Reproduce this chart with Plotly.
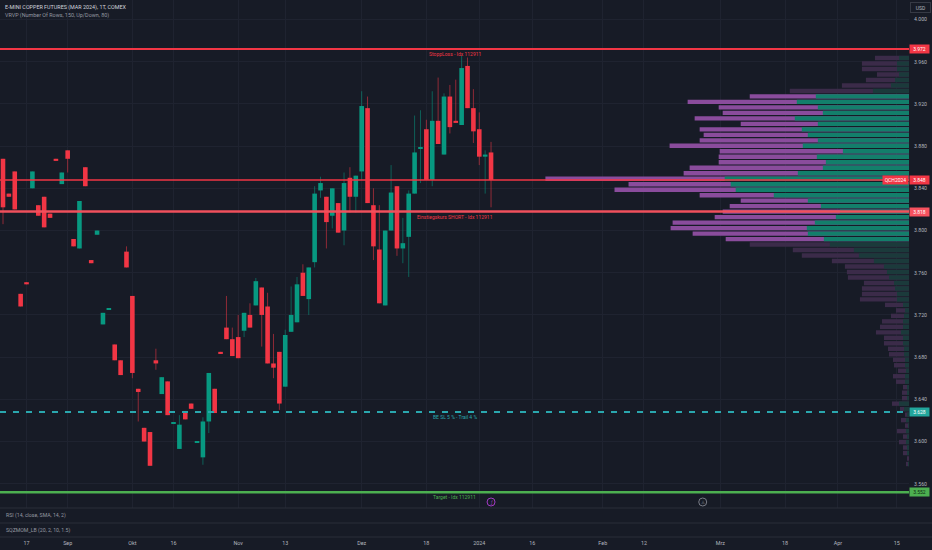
import numpy as np
import plotly.graph_objects as go

# ---------------- data (daily bars, bar index order) ----------------
opens = [3.868, 3.835, 3.856, 3.740, 3.751, 3.840, 3.824, 3.832, 3.816, 3.868,
         3.844, 3.876, 3.792, 3.783, 3.860, 3.772, 3.796, 3.711, 3.7255, 3.692,
         3.677, 3.780, 3.738, 3.650, 3.613, 3.609, 3.677, 3.645, 3.657, 3.6175,
         3.593, 3.629, 3.636, 3.5995, 3.585, 3.619, 3.650, 3.685, 3.708, 3.697,
         3.699, 3.705, 3.720, 3.729, 3.746, 3.728, 3.674, 3.685, 3.652, 3.704,
         3.713, 3.760, 3.735, 3.770, 3.838, 3.832, 3.814, 3.826, 3.800, 3.850,
         3.832, 3.856, 3.916, 3.824, 3.782, 3.729, 3.800, 3.842, 3.783, 3.794,
         3.835, 3.8775, 3.896, 3.848, 3.904, 3.872, 3.927, 3.904, 3.900, 3.956,
         3.916, 3.896, 3.870, 3.874]
highs = [3.868, 3.835, 3.856, 3.740, 3.751, 3.856, 3.824, 3.832, 3.816, 3.868,
         3.855, 3.876, 3.792, 3.828, 3.860, 3.772, 3.800, 3.722, 3.726, 3.692,
         3.677, 3.785, 3.738, 3.650, 3.613, 3.609, 3.688, 3.661, 3.657, 3.618,
         3.625, 3.629, 3.636, 3.600, 3.623, 3.665, 3.650, 3.685, 3.738, 3.708,
         3.720, 3.722, 3.731, 3.755, 3.746, 3.741, 3.702, 3.685, 3.706, 3.747,
         3.756, 3.768, 3.765, 3.842, 3.851, 3.832, 3.840, 3.826, 3.855, 3.860,
         3.852, 3.932, 3.927, 3.840, 3.824, 3.800, 3.862, 3.842, 3.812, 3.838,
         3.909, 3.914, 3.905, 3.932, 3.945, 3.930, 3.938, 3.943, 3.966, 3.964,
         3.934, 3.912, 3.876, 3.884]
lows = [3.806, 3.832, 3.820, 3.728, 3.749, 3.840, 3.814, 3.803, 3.812, 3.866,
        3.844, 3.855, 3.785, 3.783, 3.842, 3.769, 3.796, 3.711, 3.7255, 3.677,
        3.663, 3.765, 3.660, 3.619, 3.600, 3.577, 3.668, 3.645, 3.625, 3.6175,
        3.593, 3.621, 3.631, 3.5995, 3.578, 3.608, 3.627, 3.683, 3.697, 3.681,
        3.679, 3.699, 3.708, 3.729, 3.690, 3.674, 3.660, 3.630, 3.652, 3.704,
        3.713, 3.738, 3.720, 3.765, 3.831, 3.783, 3.802, 3.798, 3.786, 3.817,
        3.817, 3.848, 3.826, 3.772, 3.731, 3.729, 3.800, 3.776, 3.769, 3.756,
        3.835, 3.845, 3.848, 3.842, 3.882, 3.872, 3.892, 3.902, 3.900, 3.916,
        3.883, 3.862, 3.835, 3.822]
closes = [3.822, 3.832, 3.820, 3.728, 3.749, 3.856, 3.814, 3.803, 3.812, 3.866,
          3.855, 3.868, 3.785, 3.828, 3.842, 3.769, 3.800, 3.722, 3.726, 3.677,
          3.663, 3.765, 3.665, 3.647, 3.600, 3.577, 3.674, 3.661, 3.625, 3.618,
          3.616, 3.621, 3.631, 3.600, 3.619, 3.665, 3.627, 3.683, 3.697, 3.681,
          3.679, 3.722, 3.708, 3.752, 3.720, 3.674, 3.670, 3.636, 3.701, 3.720,
          3.749, 3.738, 3.765, 3.835, 3.845, 3.808, 3.840, 3.798, 3.845, 3.832,
          3.852, 3.918, 3.826, 3.785, 3.731, 3.800, 3.836, 3.783, 3.788, 3.835,
          3.874, 3.878, 3.848, 3.904, 3.882, 3.927, 3.898, 3.902, 3.954, 3.916,
          3.894, 3.870, 3.872, 3.848]

# time axis (bar index of each label)
tick_idx = [4, 11, 22, 29, 40, 48, 61, 72, 81, 90, 102, 109, 122, 133, 142, 152]
tick_lbl = ["17", "Sep", "Okt", "16", "Nov", "13", "Dez", "18", "2024", "16",
            "Feb", "12", "Mrz", "18", "Apr", "15"]
price_ticks = [3.56, 3.60, 3.64, 3.68, 3.72, 3.76, 3.80, 3.84, 3.88, 3.92, 3.96, 4.00]

# visible range volume profile (top row first)
vp_top = 3.9635
vp_step = 0.0052
up_vol = [10, 12, 12, 10, 14, 18, 36, 93, 112, 91,
          86, 114, 91, 107, 101, 91, 106, 66, 92, 83,
          86, 111, 184, 178, 173, 135, 101, 88, 69, 73,
          94, 102, 101, 85, 79, 55, 50, 35, 25, 22,
          20, 15, 14, 12, 12, 6, 4, 5, 6, 6,
          8, 6, 6, 5, 5, 4, 4, 3, 4, 4,
          2, 2, 2, 10, 5, 2, 3, 1, 3, 2,
          3, 2, 2, 0, 1]
down_vol = [24, 35, 35, 22, 29, 49, 83, 66, 109, 99,
            100, 100, 77, 102, 104, 118, 133, 123, 98, 107,
            133, 114, 179, 102, 121, 74, 67, 91, 117, 121,
            142, 136, 115, 98, 80, 61, 57, 42, 39, 40,
            41, 30, 33, 35, 37, 18, 9, 13, 21, 23,
            25, 19, 19, 16, 15, 12, 11, 8, 12, 9,
            4, 5, 5, 7, 4, 2, 5, 3, 9, 4,
            7, 4, 4, 2, 2]
value_area_rows = (7, 33)

# horizontal levels
stop_loss = 3.972
last_price = 3.848
entry_short = 3.818
be_sl = 3.628
target = 3.552
event_bars = [83, 119]

# ---------------- styling ----------------
BG = "#171B26"
GRID = "#1F2330"
TXT = "#B2B5BE"
UP = "#089981"
DN = "#F23645"
FONT = "Roboto, Liberation Sans, sans-serif"

PLOT_H = 550 - 13  # plot area height in px
main_bottom = (PLOT_H - 508) / PLOT_H

o = np.array(opens); h = np.array(highs); l = np.array(lows); c = np.array(closes)
idx = np.arange(len(o))
is_up = c >= o

fig = go.Figure()

# ---- volume profile ----
up_a = np.array(up_vol); dn_a = np.array(down_vol)
tot = up_a + dn_a
rows = np.round(vp_top - vp_step * np.arange(len(up_a)), 4)
k = np.arange(len(up_a))
in_va = (k >= value_area_rows[0]) & (k <= value_area_rows[1])
fig.add_trace(go.Bar(orientation="h", y=rows, x=tot, xaxis="x2", yaxis="y",
                     width=vp_step * 0.8,
                     marker=dict(color=np.where(in_va, "#8A4C9C", "#3B2B49").tolist(), line_width=0),
                     hoverinfo="skip"))
fig.add_trace(go.Bar(orientation="h", y=rows, x=up_a, xaxis="x2", yaxis="y",
                     width=vp_step * 0.8,
                     marker=dict(color=np.where(in_va, "#137F6B", "#1B3A3B").tolist(), line_width=0),
                     hoverinfo="skip"))

# ---- wicks ----
for mask, col in ((is_up, "rgba(8,153,129,0.55)"), (~is_up, "rgba(242,54,69,0.55)")):
    xs, ys = [], []
    for i in idx[mask]:
        xs += [i, i, None]
        ys += [l[i], h[i], None]
    fig.add_trace(go.Scatter(x=xs, y=ys, mode="lines", line=dict(color=col, width=1),
                             hoverinfo="skip"))

# ---- bodies ----
body_lo = np.minimum(o, c)
body_h = np.maximum(np.abs(c - o), 0.0009)
fig.add_trace(go.Bar(x=idx, y=body_h, base=body_lo, width=0.78,
                     marker=dict(color=[UP if u else DN for u in is_up], line_width=0),
                     hoverinfo="skip"))

# ---- level lines ----
shapes = []
annos = []
def hline(y, color, width, dash="solid"):
    shapes.append(dict(type="line", xref="paper", x0=0, x1=1, yref="y", y0=y, y1=y,
                       line=dict(color=color, width=width, dash=dash)))

hline(stop_loss, "#F23645", 2)
hline(last_price, "#F23645", 1.5)
hline(entry_short, "#F0505C", 2.5)
hline(be_sl, "#2AA7AE", 2, "6px,7px")
hline(target, "#4CAF50", 2.5)

def line_label(y, text, color):
    annos.append(dict(xref="paper", x=0.5, yref="y", y=y, yshift=-5, text=text,
                      showarrow=False, font=dict(size=5, color=color, family=FONT),
                      xanchor="center", yanchor="middle"))

line_label(stop_loss, "StoppLoss - Idx 112911", "#F23645")
line_label(entry_short, "Einstiegskurs SHORT - Idx 112911", "#F23645")
line_label(be_sl, "BE SL 5 % - Trail 4 %", "#2AA7AE")
line_label(target, "Target - Idx 112911", "#4CAF50")

def price_box(y, color, txtcol="#FFFFFF"):
    annos.append(dict(xref="paper", x=1, yref="y", y=y, text=f"{y:.3f}", showarrow=False,
                      font=dict(size=5, color=txtcol, family=FONT), bgcolor=color,
                      xanchor="left", yanchor="middle", width=19, height=8, borderpad=0))

price_box(stop_loss, "#F23645")
price_box(last_price, "#F23645")
price_box(entry_short, "#F7525F")
price_box(be_sl, "#22A69C")
price_box(target, "#4CAF50", "#0E2A10")
annos.append(dict(xref="paper", x=1, yref="y", y=last_price, text="QCH2024", showarrow=False,
                  font=dict(size=5, color="#FFFFFF", family=FONT), bgcolor="#F23645",
                  xanchor="right", yanchor="middle", width=25, height=8, borderpad=0))
annos.append(dict(xref="paper", x=1, xshift=1, yref="paper", y=1 - 7.5 / PLOT_H, text="USD",
                  showarrow=False, font=dict(size=5, color=TXT, family=FONT),
                  bordercolor="#363A45", borderwidth=1, borderpad=1.5, width=16,
                  xanchor="left", yanchor="middle"))

# ---- header / pane legends ----
annos.append(dict(xref="paper", x=3 / 909, yref="paper", y=1 - 7 / PLOT_H,
                  text="E-MINI COPPER FUTURES (MAR 2024), 1T, COMEX", showarrow=False,
                  font=dict(size=5.4, color="#D1D4DC", family=FONT), xanchor="left", yanchor="middle"))
annos.append(dict(xref="paper", x=3 / 909, yref="paper", y=1 - 15 / PLOT_H,
                  text="VRVP (Number Of Rows, 150, Up/Down, 80)", showarrow=False,
                  font=dict(size=5.4, color="#9598A1", family=FONT), xanchor="left", yanchor="middle"))
annos.append(dict(xref="paper", x=4 / 909, yref="paper", y=(PLOT_H - 515.5) / PLOT_H,
                  text="RSI (14, close, SMA, 14, 2)", showarrow=False,
                  font=dict(size=5.2, color="#9598A1", family=FONT), xanchor="left", yanchor="middle"))
annos.append(dict(xref="paper", x=4 / 909, yref="paper", y=(PLOT_H - 530) / PLOT_H,
                  text="SQZMOM_LB (20, 2, 10, 1.5)", showarrow=False,
                  font=dict(size=5.2, color="#9598A1", family=FONT), xanchor="left", yanchor="middle"))

# pane separators
for ypx in (508, 523):
    yp = (PLOT_H - ypx) / PLOT_H
    shapes.append(dict(type="line", xref="paper", x0=0, x1=932 / 909, yref="paper", y0=yp, y1=yp,
                       line=dict(color="#2A2E39", width=1)))
shapes.append(dict(type="line", xref="paper", x0=0, x1=932 / 909, yref="paper", y0=0, y1=0,
                   line=dict(color="#2A2E39", width=1)))

# event markers
ev_y = (PLOT_H - 502) / PLOT_H
r_y = 4 / PLOT_H
for b, col, g in zip(event_bars, ["#A23BC4", "#787B86"], ["ƒ", "♙"]):
    shapes.append(dict(type="circle", xref="x", x0=b - 0.68, x1=b + 0.68, yref="paper",
                       y0=ev_y - r_y, y1=ev_y + r_y, line=dict(color=col, width=1), fillcolor=BG))
    annos.append(dict(xref="x", x=b, yref="paper", y=ev_y, text=g, showarrow=False,
                      font=dict(size=4.5, color=col, family="DejaVu Sans"),
                      xanchor="center", yanchor="middle"))

fig.update_layout(
    width=932, height=550,
    margin=dict(l=0, r=23, t=0, b=13),
    paper_bgcolor=BG, plot_bgcolor=BG,
    showlegend=False, barmode="overlay",
    shapes=shapes, annotations=annos,
    xaxis=dict(range=[-0.51, 154.08], tickvals=tick_idx, ticktext=tick_lbl,
               showgrid=True, gridcolor=GRID, gridwidth=1, zeroline=False, showline=False,
               ticks="", anchor="free", position=0, ticklabelstandoff=2,
               tickfont=dict(size=5.4, color=TXT, family=FONT)),
    xaxis2=dict(overlaying="x", anchor="y", range=[tot.max() / 0.4, 0], visible=False),
    yaxis=dict(domain=[main_bottom, 1], range=[3.537, 4.0185], side="right",
               tickvals=price_ticks, ticktext=[f"{v:.3f}" for v in price_ticks],
               showgrid=True, gridcolor=GRID, zeroline=False, showline=False, ticks="",
               ticklabelstandoff=4, tickfont=dict(size=5.2, color=TXT, family=FONT)),
)

fig.write_html("out.html", config={"displayModeBar": False},
               post_script="document.body.style.margin='0';document.body.style.overflow='hidden';")
